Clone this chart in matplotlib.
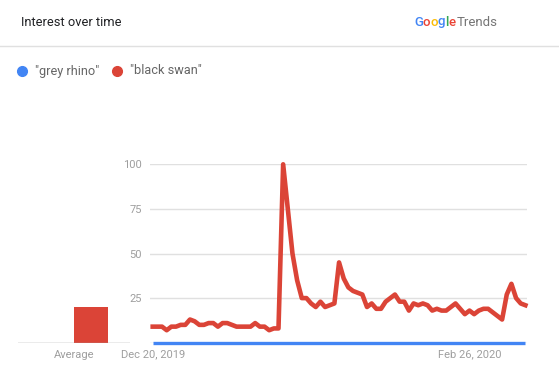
import numpy as np
import matplotlib
matplotlib.use("Agg")
import matplotlib.pyplot as plt
import matplotlib.dates as mdates
from matplotlib.lines import Line2D

plt.rcParams['font.family'] = ['Roboto', 'DejaVu Sans']

# data: daily interest, Dec 20, 2019 .. Mar 9, 2020
dates = np.arange(np.datetime64('2019-12-20'), np.datetime64('2020-03-10'))
black_swan = [9, 9, 9, 7, 9, 9, 10, 10, 13, 12,
              10, 10, 11, 11, 9, 11, 11, 10, 9, 9,
              9, 9, 11, 9, 9, 7, 8, 8, 100, 75,
              50, 35, 25, 25, 22, 20, 23, 20, 21, 22,
              45, 36, 31, 29, 28, 27, 20, 22, 19, 19,
              23, 25, 27, 23, 23, 18, 22, 21, 22, 21,
              18, 19, 18, 18, 20, 22, 19, 16, 18, 16,
              18, 19, 19, 17, 15, 13, 27, 33, 25, 22,
              21]
grey_rhino = [0, 0, 0, 0, 0, 0, 0, 0, 0, 0,
              0, 0, 0, 0, 0, 0, 0, 0, 0, 0,
              0, 0, 0, 0, 0, 0, 0, 0, 0, 0,
              0, 0, 0, 0, 0, 0, 0, 0, 0, 0,
              0, 0, 0, 0, 0, 0, 0, 0, 0, 0,
              0, 0, 0, 0, 0, 0, 0, 0, 0, 0,
              0, 0, 0, 0, 0, 0, 0, 0, 0, 0,
              0, 0, 0, 0, 0, 0, 0, 0, 0, 0,
              0]
terms = ['"grey rhino"', '"black swan"']
averages = [0, 20]
yticks = [25, 50, 75, 100]
xtick_dates = [np.datetime64('2019-12-20'), np.datetime64('2020-02-26')]
xtick_labels = ['Dec 20, 2019', 'Feb 26, 2020']

BLUE = '#4285f4'
RED = '#db4437'
GRID = '#e0e0e0'
TICK = '#9e9e9e'

W, H = 559, 373
fig = plt.figure(figsize=(W / 100, H / 100), dpi=100)

def px(x0, y0, x1, y1):
    # pixel box (top-left origin) -> figure fraction rect
    return [x0 / W, 1 - y1 / H, (x1 - x0) / W, (y1 - y0) / H]

# header
fig.text(21 / W, 1 - 22 / H, 'Interest over time', fontsize=9.3, color='#202124', va='center')
gx = 414 / W
for ch, c in zip('Google', [BLUE, '#ea4335', '#fbbc05', BLUE, '#34a853', '#ea4335']):
    t = fig.text(gx, 1 - 22 / H, ch, fontsize=9.5, color=c, va='center', fontweight='medium')
    fig.canvas.draw()
    gx += t.get_window_extent().width / W
fig.text(gx + 1 / W, 1 - 22 / H, 'Trends', fontsize=9.5, color='#757575', va='center')
fig.add_artist(Line2D([0, 1], [1 - 46 / H] * 2, color=GRID, lw=1))

# legend
for xd, xt, term, c in zip([22, 117], [35, 130], terms, [BLUE, RED]):
    fig.add_artist(Line2D([xd / W], [1 - 71 / H], marker='o', ms=7, color=c, ls='none'))
    fig.text(xt / W, 1 - 71 / H, term, fontsize=9.2, color='#666666', va='center')

# average bars
ax0 = fig.add_axes(px(17.7, 164.3, 130, 342.7))
ax0.bar([0, 1], averages, width=1, color=[BLUE, RED])
ax0.set_xlim(-1.17, 2.16)
ax0.set_ylim(0, 100)
ax0.axhline(0, color=TICK, lw=1)
ax0.set_xticks([0.5])
ax0.set_xticklabels(['Average'])
ax0.set_yticks([])
ax0.tick_params(axis='x', length=0, pad=5, labelsize=8, labelcolor=TICK)
for s in ax0.spines.values():
    s.set_visible(False)
ax0.patch.set_visible(False)

# main line chart
ax = fig.add_axes(px(150, 164.3, 526.7, 342.7))
ax.set_ylim(0, 100)
x0 = mdates.date2num(dates[0])
ax.set_xlim(x0 - 0.58, x0 + 80.28)
for v in [0] + yticks:
    ax.axhline(v, color=GRID, lw=1, zorder=0)
ax.plot(dates, grey_rhino, color=BLUE, lw=2.4, solid_capstyle='butt', zorder=2, clip_on=False)
ax.plot(dates, black_swan, color=RED, lw=3.3, solid_joinstyle='round', zorder=3, clip_on=False)
ax.set_yticks(yticks)
ax.set_xticks(xtick_dates)
ax.set_xticklabels(xtick_labels)
ax.tick_params(length=0, labelsize=8, labelcolor=TICK)
ax.tick_params(axis='y', pad=6)
ax.tick_params(axis='x', pad=5)
for s in ax.spines.values():
    s.set_visible(False)
ax.patch.set_visible(False)

fig.savefig('out.png', dpi=100)
